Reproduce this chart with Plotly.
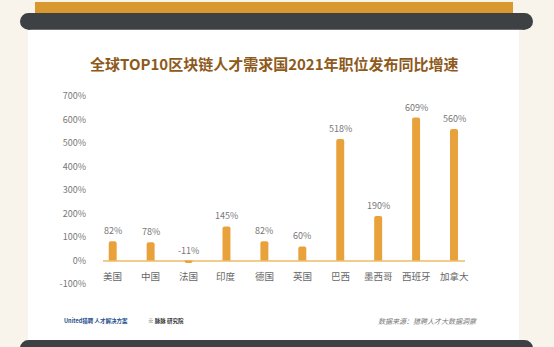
import plotly.graph_objects as go

W, H = 554, 347

categories = ["美国", "中国", "法国", "印度", "德国", "英国", "巴西", "墨西哥", "西班牙", "加拿大"]
values = [82, 78, -11, 145, 82, 60, 518, 190, 609, 560]
tick_vals = [-100, 0, 100, 200, 300, 400, 500, 600, 700]
tick_text = ["-100%", "0%", "100%", "200%", "300%", "400%", "500%", "600%", "700%"]
title_text = "全球TOP10区块链人才需求国2021年职位发布同比增速"
source_text = "数据来源：猎聘人才大数据洞察"

def px(x):
    return x / W

def py(y):
    return 1 - y / H

BAR = "#E9A23B"
DARK = "#3E4144"
CREAM = "#F8F4EC"

fig = go.Figure()
fig.add_trace(go.Bar(
    x=list(range(len(categories))), y=values,
    marker=dict(color=BAR, cornerradius=2, line=dict(width=0)),
    width=0.21, hoverinfo="skip",
))

annotations = []
for i, (c, v) in enumerate(zip(categories, values)):
    annotations.append(dict(x=i, y=max(v, 0), xref="x", yref="y", text=f"{v}%",
                            showarrow=False, yanchor="bottom", yshift=2,
                            font=dict(size=9, color="#777777", family="Noto Sans CJK SC")))
    annotations.append(dict(x=i, y=0, xref="x", yref="y", text=c,
                            showarrow=False, yanchor="middle", yshift=-15,
                            font=dict(size=9.5, color="#666666", family="Noto Sans CJK SC")))

annotations.append(dict(x=px(274), y=py(62), xref="paper", yref="paper", text=f"<b>{title_text}</b>",
                        showarrow=False, xanchor="center", yanchor="middle",
                        font=dict(size=15, color="#8E5A1C", family="Noto Sans CJK SC")))
annotations.append(dict(x=px(62), y=py(321), xref="paper", yref="paper",
                        text="<b>United猎聘 人才解决方案</b>",
                        showarrow=False, xanchor="left", yanchor="middle",
                        font=dict(size=5.5, color="#1F4E8C", family="Noto Sans CJK SC")))
annotations.append(dict(x=px(146), y=py(321), xref="paper", yref="paper",
                        text="<b>※ 脉脉 研究院</b>",
                        showarrow=False, xanchor="left", yanchor="middle",
                        font=dict(size=5.5, color="#333333", family="Noto Sans CJK SC")))
annotations.append(dict(x=px(479), y=py(321), xref="paper", yref="paper",
                        text=f"<i>{source_text}</i>",
                        showarrow=False, xanchor="right", yanchor="middle",
                        font=dict(size=7, color="#777777", family="Noto Sans CJK SC")))

def rect(x0, y0, x1, y1, color):
    return dict(type="rect", xref="paper", yref="paper", x0=px(x0), x1=px(x1),
                y0=py(y1), y1=py(y0), fillcolor=color, line=dict(width=0), layer="below")

def circ(x0, y0, x1, y1, color):
    return dict(type="circle", xref="paper", yref="paper", x0=px(x0), x1=px(x1),
                y0=py(y1), y1=py(y0), fillcolor=color, line=dict(width=0), layer="below")

shapes = [
    rect(28, 20, 519, 342, "#FFFFFF"),
    rect(35, 0, 513, 12, "#D9972F"),
    rect(28, 11, 525, 28, DARK),
    circ(20, 11, 37, 28, DARK),
    circ(516, 11, 533, 28, DARK),
    rect(28, 340, 525, 356, DARK),
    circ(20, 340, 37, 357, DARK),
    circ(516, 340, 533, 357, DARK),
]

fig.update_layout(
    width=W, height=H,
    margin=dict(l=0, r=0, t=0, b=0),
    paper_bgcolor=CREAM, plot_bgcolor="rgba(0,0,0,0)",
    showlegend=False,
    shapes=shapes,
    annotations=annotations,
    xaxis=dict(domain=[px(103), px(465)], range=[-0.256, 9.29], showticklabels=False,
               showgrid=False, zeroline=False, showline=False, fixedrange=True),
    yaxis=dict(domain=[py(290), py(90)], range=[-127, 720], tickvals=tick_vals, ticktext=tick_text,
               showgrid=False, zeroline=True, zerolinecolor="#F2CC8A", zerolinewidth=1.5,
               showline=False, ticklabelstandoff=16,
               tickfont=dict(size=9, color="#777777", family="Noto Sans CJK SC"), fixedrange=True),
    font=dict(family="Noto Sans CJK SC"),
)

fig.write_html("out.html", config={"displayModeBar": False})
